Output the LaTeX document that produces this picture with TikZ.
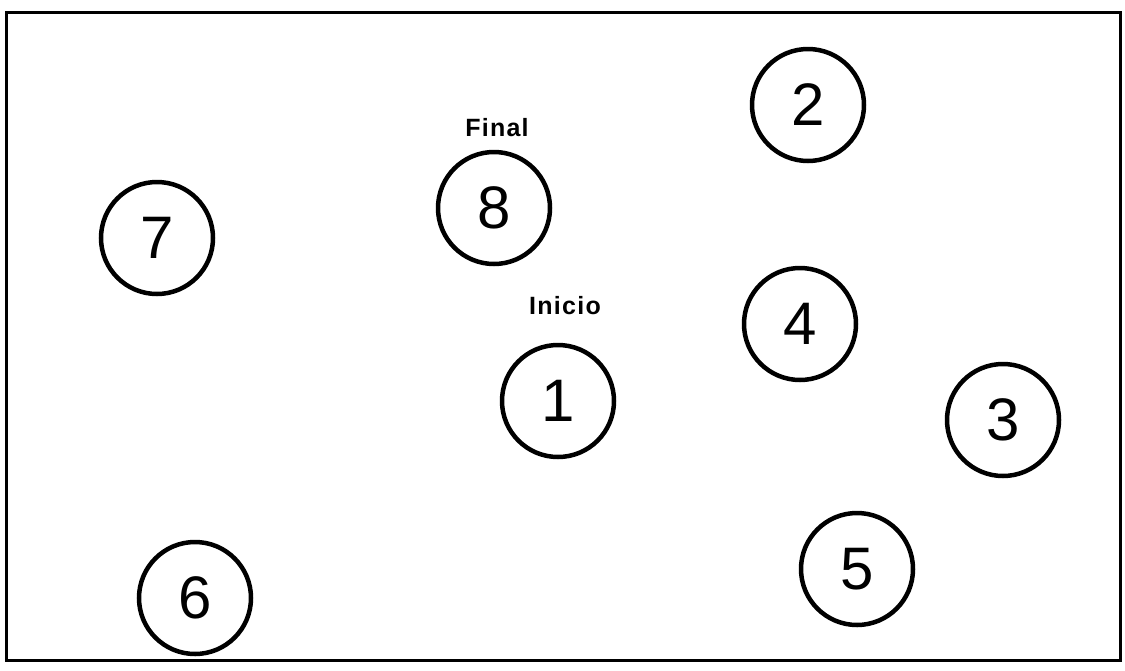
\documentclass[tikz,border=0pt]{standalone}
\usepackage{fontspec}
\setmainfont{Liberation Sans}
\begin{document}
\begin{tikzpicture}[x=1pt,y=-1pt,
  city/.style={draw,circle,line width=4.5pt,minimum size=112pt,inner sep=0pt,font=\fontsize{60}{66}\selectfont},
  tag/.style={font=\bfseries\fontsize{25}{28}\selectfont\addfontfeature{LetterSpace=5},inner sep=0pt}]
\useasboundingbox (0,0) rectangle (1125,670);
\node[draw,line width=3pt,minimum width=1114pt,minimum height=648pt,inner sep=0pt] (frame) at (563,336) {};
\node[city] (n2) at (808,105) {2};
\node[city] (n8) at (494,208) {8};
\node[city] (n7) at (157,238) {7};
\node[city] (n4) at (800,324) {4};
\node[city] (n1) at (558,401) {1};
\node[city] (n3) at (1003,420) {3};
\node[city] (n5) at (857,569) {5};
\node[city] (n6) at (195,598) {6};
\node[tag] (fin) at (497,128) {Final};
\node[tag] (ini) at (565,306) {Inicio};
\end{tikzpicture}
\end{document}
